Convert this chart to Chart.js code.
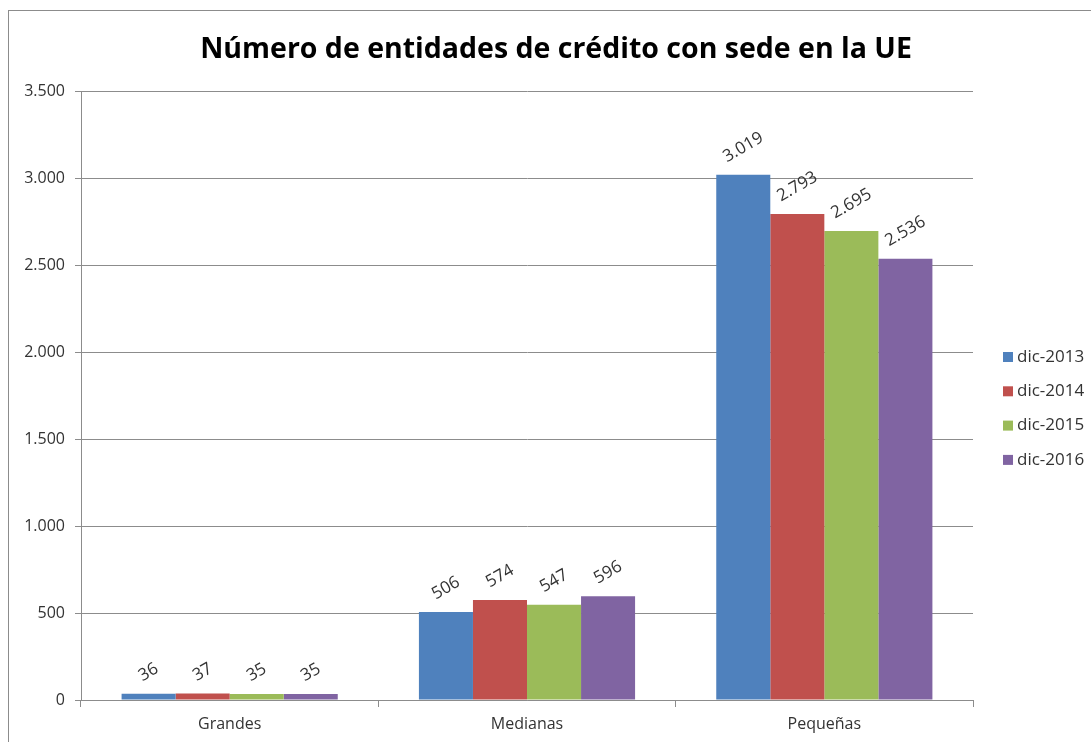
<!DOCTYPE html>
<html>
<head>
<meta charset="utf-8">
<script src="https://cdn.jsdelivr.net/npm/chart.js@4.4.1/dist/chart.umd.min.js"></script>
<style>
  html, body { margin: 0; padding: 0; background: #fff; }
  #wrap { position: relative; width: 1091px; height: 742px; overflow: hidden; }
  #frame { position: absolute; left: 8px; top: 10px; width: 1100px; height: 800px;
           border-left: 1px solid #8c8c8c; border-top: 1px solid #8c8c8c; }
  canvas { position: absolute; left: 0; top: 0; }
</style>
</head>
<body>
<div id="wrap">
  <div id="frame"></div>
  <canvas id="chart" width="1091" height="742"></canvas>
</div>
<script>
// datos
const categories = ["Grandes", "Medianas", "Pequeñas"];
const seriesNames = ["dic-2013", "dic-2014", "dic-2015", "dic-2016"];
const dic2013 = [36, 506, 3019];
const dic2014 = [37, 574, 2793];
const dic2015 = [35, 547, 2695];
const dic2016 = [35, 596, 2536];
const yTicks = [0, 500, 1000, 1500, 2000, 2500, 3000, 3500];

const COLORS = ["#4F81BD", "#C0504D", "#9BBB59", "#8064A2"];
const FONT = "'Open Sans', 'Noto Sans', sans-serif";
const GRID = "#8c8c8c";
const TEXT = "#333333";

function fmt(n) {
  return n.toString().replace(/\B(?=(\d{3})+(?!\d))/g, ".");
}

// etiquetas de valor giradas encima de cada barra
const valueLabels = {
  id: "valueLabels",
  afterDatasetsDraw(chart) {
    const ctx = chart.ctx;
    const ang = -30 * Math.PI / 180;
    ctx.save();
    ctx.font = "17px " + FONT;
    ctx.fillStyle = TEXT;
    ctx.textAlign = "center";
    ctx.textBaseline = "middle";
    chart.data.datasets.forEach((ds, i) => {
      chart.getDatasetMeta(i).data.forEach((bar, j) => {
        const txt = fmt(ds.data[j]);
        const w = ctx.measureText(txt).width, h = 15;
        const half = (w * Math.sin(-ang) + h * Math.cos(ang)) / 2;
        ctx.save();
        ctx.translate(bar.x, bar.y - 10 - half);
        ctx.rotate(ang);
        ctx.fillText(txt, 0, 0);
        ctx.restore();
      });
    });
    ctx.restore();
  }
};

// leyenda a la derecha
const sideLegend = {
  id: "sideLegend",
  afterDraw(chart) {
    const ctx = chart.ctx;
    ctx.save();
    ctx.font = "17px " + FONT;
    ctx.textBaseline = "middle";
    chart.data.datasets.forEach((ds, i) => {
      const y = 357 + i * 34.3;
      ctx.fillStyle = ds.backgroundColor;
      ctx.fillRect(1003, y - 5, 10, 10);
      ctx.fillStyle = TEXT;
      ctx.fillText(ds.label, 1017, y);
    });
    ctx.restore();
  }
};

// título centrado sobre todo el gráfico
const titleText = "Número de entidades de crédito con sede en la UE";
const topTitle = {
  id: "topTitle",
  afterDraw(chart) {
    const ctx = chart.ctx;
    ctx.save();
    ctx.font = "bold 30px " + FONT;
    const size = Math.min(30, 30 * 712 / ctx.measureText(titleText).width);
    ctx.font = "bold " + size + "px " + FONT;
    ctx.fillStyle = "#000";
    ctx.textAlign = "center";
    ctx.textBaseline = "middle";
    ctx.fillText(titleText, 556, 50);
    ctx.restore();
  }
};

const seriesData = [dic2013, dic2014, dic2015, dic2016];

new Chart(document.getElementById("chart"), {
  type: "bar",
  data: {
    labels: categories,
    datasets: seriesNames.map((name, i) => ({
      label: name,
      data: seriesData[i],
      backgroundColor: COLORS[i],
      borderWidth: 0,
      categoryPercentage: 0.727,
      barPercentage: 1.0
    }))
  },
  options: {
    responsive: false,
    animation: false,
    layout: { padding: { top: 91, right: 118, bottom: 0, left: 0 } },
    plugins: {
      legend: { display: false },
      tooltip: { enabled: false },
      title: { display: false }
    },
    scales: {
      x: {
        offset: true,
        grid: { offset: true, drawOnChartArea: false, tickLength: 7, color: GRID },
        border: { color: GRID },
        ticks: { color: TEXT, font: { family: FONT, size: 16 }, padding: 8 },
        afterFit(scale) { scale.height = 42; }
      },
      y: {
        min: 0,
        max: 3500,
        afterBuildTicks(scale) { scale.ticks = yTicks.map(v => ({ value: v })); },
        grid: { color: GRID, tickLength: 6 },
        border: { color: GRID },
        ticks: { color: TEXT, font: { family: FONT, size: 16 }, padding: 10,
                 callback: (v) => fmt(v) },
        afterFit(scale) { scale.width = 81; }
      }
    }
  },
  plugins: [valueLabels, sideLegend, topTitle]
});
</script>
</body>
</html>
